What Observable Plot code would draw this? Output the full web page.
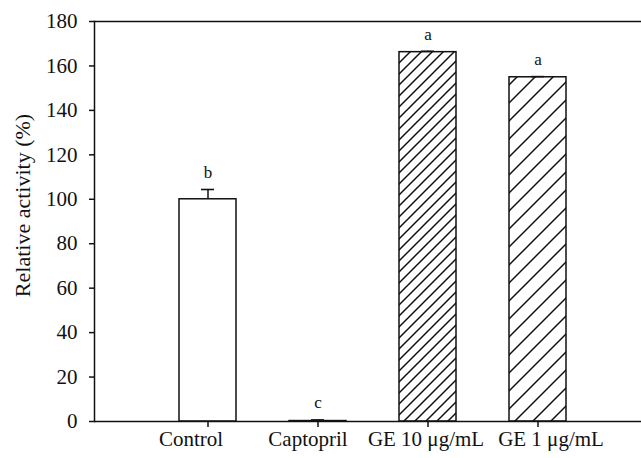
<!DOCTYPE html>
<html><head><meta charset="utf-8">
<script src="https://cdn.jsdelivr.net/npm/d3@7"></script>
<script src="https://cdn.jsdelivr.net/npm/@observablehq/plot@0.6"></script>
<style>body{margin:0;background:#fff;} #chart svg{display:block;}</style>
</head><body><div id="chart"></div>
<script>
const categories = ["Control", "Captopril", "GE 10 μg/mL", "GE 1 μg/mL"];
const values = [100, 0.2, 166.2, 154.9];
const errors = [4.4, 0.5, 0.4, 0.3];
const letters = ["b", "c", "a", "a"];
const yTicks = [0, 20, 40, 60, 80, 100, 120, 140, 160, 180];
const yLabel = "Relative activity (%)";

const data = categories.map((c, i) => ({cat: c, value: values[i], err: errors[i], top: values[i] + errors[i], letter: letters[i]}));
const fillStyles = ["white", "white", "url(#hatchDense)", "url(#hatchSparse)"];
const fillOf = d => fillStyles[categories.indexOf(d.cat)];
// small horizontal nudges of the category labels, as in the original layout
const labelShift = [-17, -10, -2, 13];

const font = "'Liberation Serif', 'Times New Roman', serif";
const ink = "#111";

const chart = Plot.plot({
  width: 641,
  height: 458,
  marginLeft: 94,
  marginRight: 0,
  marginTop: 21,
  marginBottom: 37,
  style: {fontFamily: font, fontSize: "21px", color: ink, background: "white"},
  x: {domain: categories, range: [94, 651], paddingInner: 0.485, paddingOuter: 0.76, label: null},
  y: {domain: [0, 180], ticks: yTicks, label: null},
  marks: [
    Plot.barY(data, {x: "cat", y: "value", fill: fillOf, stroke: ink, strokeWidth: 1.5}),
    Plot.ruleX(data, {x: "cat", y1: "value", y2: "top", stroke: ink, strokeWidth: 1.5}),
    Plot.tickY(data, {x: "cat", y: "top", stroke: ink, strokeWidth: 1.6, insetLeft: 22, insetRight: 22}),
    Plot.text(data, {x: "cat", y: "top", text: "letter", dy: -17, fontSize: 17, fill: ink}),
    Plot.ruleY([0, 180], {stroke: ink, strokeWidth: 1.5}),
    Plot.frame({anchor: "left", stroke: ink, strokeWidth: 1.5}),
    Plot.axisY({ticks: yTicks, tickSize: 5, tickPadding: 12, label: null, stroke: ink, strokeWidth: 1.5, fontSize: 21}),
    Plot.axisX({tickSize: 6, tickFormat: () => "", label: null, stroke: ink, strokeWidth: 1.5}),
    ...categories.map((c, i) => Plot.text([c], {x: d => d, frameAnchor: "bottom", lineAnchor: "top", dy: 10, dx: labelShift[i], fontSize: 21, fill: ink})),
    Plot.text([yLabel], {frameAnchor: "left", textAnchor: "middle", rotate: -90, dx: -72, dy: -16, fontSize: 22, fill: ink})
  ]
});

const defs = d3.create("svg:defs");
function hatch(id, s) {
  const p = defs.append("pattern").attr("id", id).attr("patternUnits", "userSpaceOnUse")
    .attr("width", s).attr("height", s);
  p.append("rect").attr("width", s).attr("height", s).attr("fill", "white");
  p.append("path").attr("d", `M-2,2 L2,-2 M0,${s} L${s},0 M${s - 2},${s + 2} L${s + 2},${s - 2}`)
    .attr("stroke", "#111").attr("stroke-width", 1.5);
}
hatch("hatchDense", 11);
hatch("hatchSparse", 18);
chart.insertBefore(defs.node(), chart.firstChild);
document.getElementById("chart").appendChild(chart);
</script>
</body></html>
